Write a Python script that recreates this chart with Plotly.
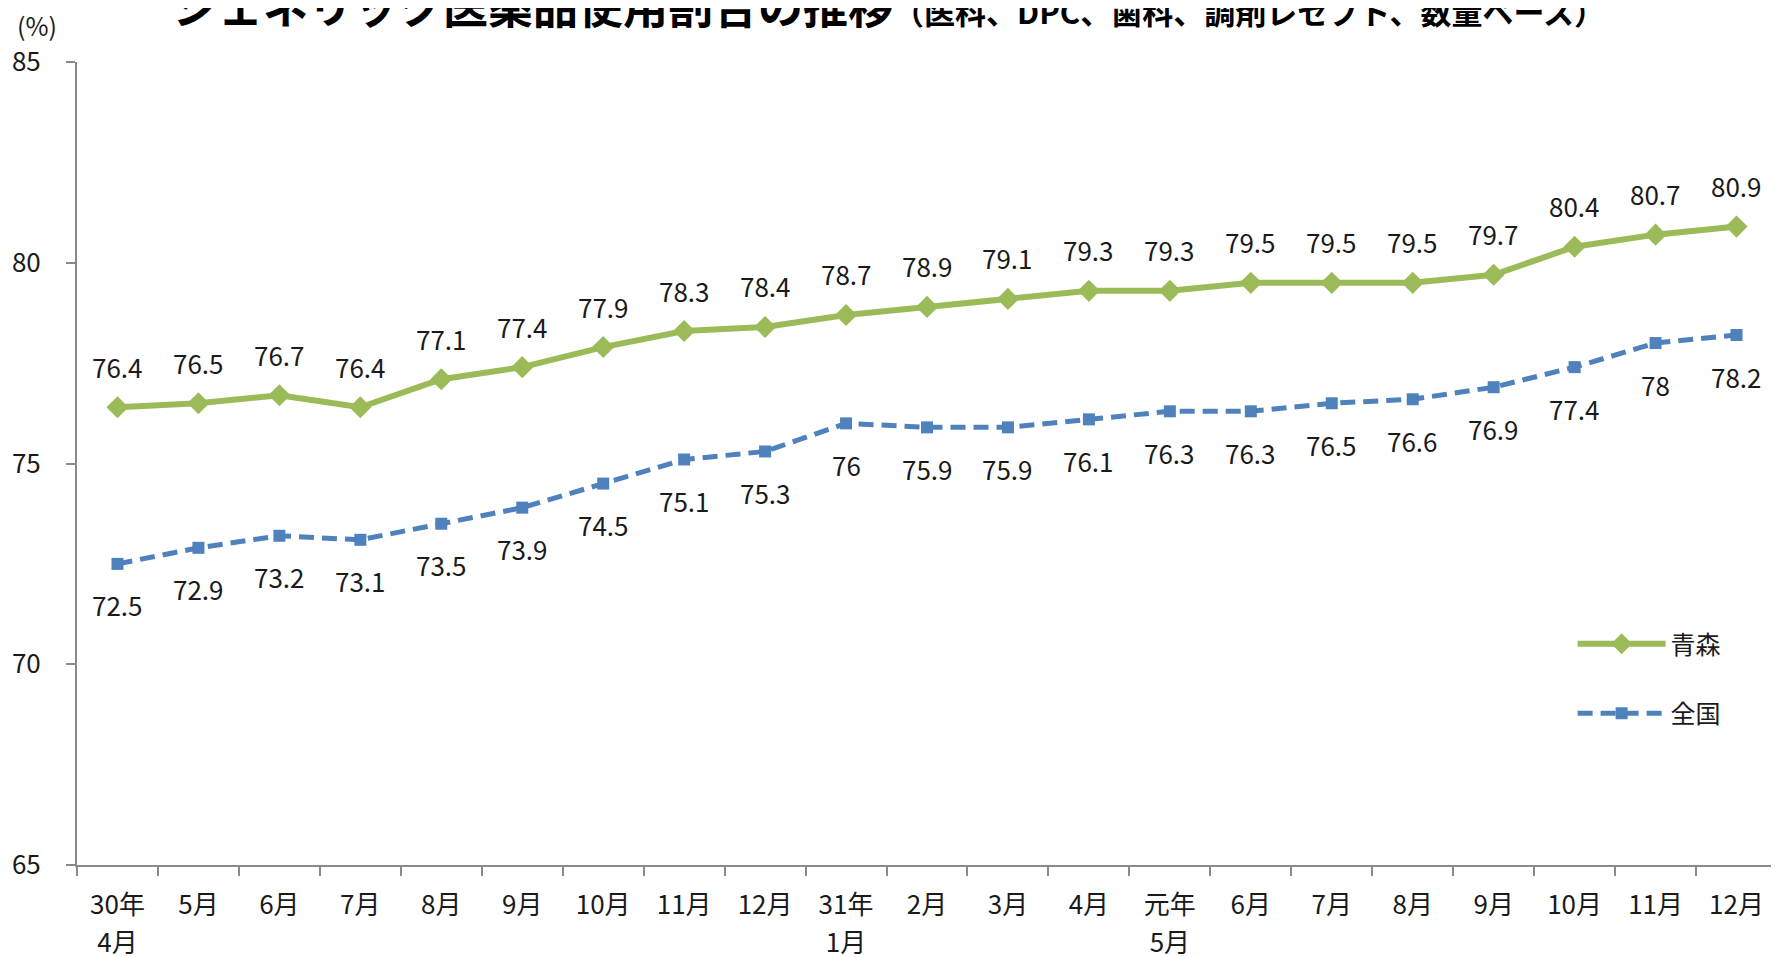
import plotly.graph_objects as go

# ---- data ----
tick_labels = ["30年<br>4月", "5月", "6月", "7月", "8月", "9月", "10月", "11月", "12月",
               "31年<br>1月", "2月", "3月", "4月", "元年<br>5月", "6月", "7月", "8月", "9月",
               "10月", "11月", "12月"]
aomori = [76.4, 76.5, 76.7, 76.4, 77.1, 77.4, 77.9, 78.3, 78.4, 78.7, 78.9, 79.1,
          79.3, 79.3, 79.5, 79.5, 79.5, 79.7, 80.4, 80.7, 80.9]
national = [72.5, 72.9, 73.2, 73.1, 73.5, 73.9, 74.5, 75.1, 75.3, 76.0, 75.9, 75.9,
            76.1, 76.3, 76.3, 76.5, 76.6, 76.9, 77.4, 78.0, 78.2]
series_names = ["青森", "全国"]
title_main = "ジェネリック医薬品使用割合の推移"
title_sub = "（医科、DPC、歯科、調剤レセプト、数量ベース）"

x = list(range(len(tick_labels)))

GREEN = "#9BBB59"
BLUE = "#4F81BD"
FONT = "Noto Sans CJK JP"
TXT = "#1a1a1a"
# page body has an 8px margin: figure is offset by (8, 8)
W, H = 1771, 949
L, R, T, B = 68.5, 1.5, 54, 92
PW, PH = W - L - R, H - T - B


def px_x(fx):
    return (fx - L) / PW


def px_y(fy):
    return (H - B - fy) / PH


fig = go.Figure()
fig.add_trace(go.Scatter(
    x=x, y=aomori, name=series_names[0], mode="lines+markers",
    line=dict(color=GREEN, width=6),
    marker=dict(symbol="diamond", size=17, color=GREEN),
    legendgroup="a",
))
fig.add_trace(go.Scatter(
    x=x, y=national, name=series_names[1], mode="lines+markers",
    line=dict(color=BLUE, width=5, dash="15px,8px"),
    marker=dict(symbol="square", size=12, color=BLUE),
    legendgroup="b",
))

annotations = []
for xi, v in zip(x, aomori):
    annotations.append(dict(x=xi, y=v, xref="x", yref="y", text=f"{v:g}",
                            showarrow=False, yshift=41,
                            font=dict(size=26, color=TXT, family=FONT)))
for xi, v in zip(x, national):
    annotations.append(dict(x=xi, y=v, xref="x", yref="y", text=f"{v:g}",
                            showarrow=False, yshift=-41,
                            font=dict(size=26, color=TXT, family=FONT)))
annotations.append(dict(x=px_x(6), y=px_y(17), xref="paper", yref="paper",
                        xanchor="left", yanchor="middle",
                        text="(%)", showarrow=False,
                        font=dict(size=25, color=TXT, family=FONT)))
annotations.append(dict(x=px_x(163), y=px_y(-3), xref="paper", yref="paper",
                        xanchor="left", yanchor="middle", showarrow=False,
                        text=f"<b>{title_main}</b><span style='font-size:31px'><b>{title_sub}</b></span>",
                        font=dict(size=45, color="#000", family=FONT, weight=900)))

wrapped = [
    "<br>".join(f"<span style='font-size:26px'>{part}</span>" for part in lab.split("<br>"))
    for lab in tick_labels
]

fig.update_layout(
    width=W, height=H,
    margin=dict(l=L, r=R, t=T, b=B, autoexpand=False),
    paper_bgcolor="white", plot_bgcolor="white",
    font=dict(family=FONT, color=TXT),
    showlegend=True,
    legend=dict(
        x=px_x(1565), y=px_y(613),
        xanchor="left", yanchor="top",
        font=dict(size=25, color=TXT, family=FONT),
        bgcolor="rgba(0,0,0,0)",
        traceorder="grouped", tracegroupgap=34,
        itemwidth=88,
    ),
    annotations=annotations,
)

fig.update_xaxes(
    range=[-0.5, len(x) - 0.5],
    tickmode="array", tickvals=x, ticktext=wrapped,
    ticks="", showgrid=False, zeroline=False,
    showline=True, linecolor="#8a8a8a", linewidth=2,
    tickfont=dict(size=29, color=TXT, family=FONT),
    ticklabelstandoff=12,
    minor=dict(tick0=-0.5, dtick=1, ticks="outside", ticklen=9,
               tickcolor="#8a8a8a", tickwidth=2, showgrid=False),
)
fig.update_yaxes(
    range=[65, 85], dtick=5, tick0=65,
    ticks="outside", ticklen=9, tickcolor="#8a8a8a", tickwidth=2,
    showgrid=False, zeroline=False,
    showline=True, linecolor="#8a8a8a", linewidth=2,
    tickfont=dict(size=26, color=TXT, family=FONT),
    ticklabelstandoff=20,
)

fig.write_html("out.html")
